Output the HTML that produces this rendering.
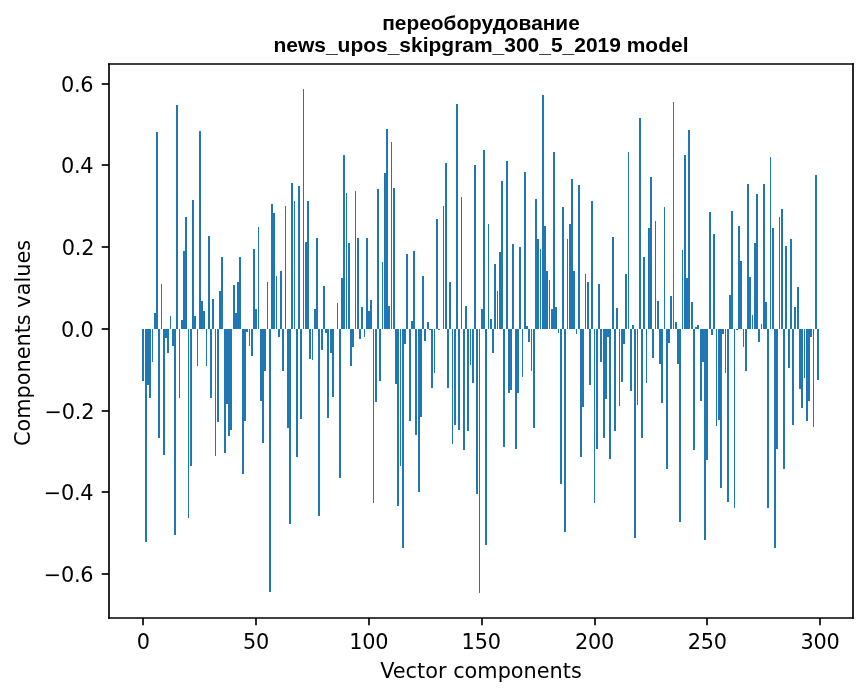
<!DOCTYPE html>
<html><head><meta charset="utf-8"><title>chart</title>
<style>
html,body{margin:0;padding:0;background:#fff;}
svg{display:block;will-change:transform}
text{font-family:"DejaVu Sans","Liberation Sans",sans-serif;fill:#000}
.t{font-family:"Liberation Sans",sans-serif;font-weight:bold;font-size:20.97px;text-anchor:middle}
.k{font-size:20.83px}
.n{letter-spacing:-0.23px}
</style></head><body>
<svg width="867" height="696" viewBox="0 0 867 696">
<rect width="867" height="696" fill="#fff"/>
<g fill="#1f77b4" shape-rendering="crispEdges">
<rect x="142" y="329" width="2" height="52"/>
<rect x="145" y="329" width="2" height="213"/>
<rect x="147" y="329" width="2" height="56"/>
<rect x="149" y="329" width="2" height="69"/>
<rect x="152" y="329" width="1" height="33"/>
<rect x="154" y="313" width="2" height="16"/>
<rect x="156" y="132" width="2" height="197"/>
<rect x="158" y="329" width="2" height="109"/>
<rect x="161" y="284" width="1" height="45"/>
<rect x="163" y="329" width="2" height="126"/>
<rect x="165" y="329" width="2" height="9"/>
<rect x="167" y="329" width="2" height="24"/>
<rect x="170" y="316" width="1" height="13"/>
<rect x="172" y="329" width="2" height="17"/>
<rect x="174" y="329" width="2" height="206"/>
<rect x="176" y="105" width="2" height="224"/>
<rect x="179" y="329" width="1" height="69"/>
<rect x="181" y="320" width="2" height="9"/>
<rect x="183" y="251" width="2" height="78"/>
<rect x="185" y="217" width="2" height="112"/>
<rect x="188" y="329" width="1" height="189"/>
<rect x="190" y="329" width="2" height="137"/>
<rect x="192" y="200" width="2" height="129"/>
<rect x="194" y="316" width="2" height="13"/>
<rect x="197" y="329" width="1" height="37"/>
<rect x="199" y="131" width="2" height="198"/>
<rect x="201" y="301" width="2" height="28"/>
<rect x="203" y="311" width="2" height="18"/>
<rect x="206" y="329" width="1" height="37"/>
<rect x="208" y="236" width="2" height="93"/>
<rect x="210" y="329" width="2" height="69"/>
<rect x="212" y="299" width="2" height="30"/>
<rect x="215" y="329" width="1" height="127"/>
<rect x="217" y="329" width="2" height="93"/>
<rect x="219" y="291" width="2" height="38"/>
<rect x="221" y="257" width="2" height="72"/>
<rect x="224" y="329" width="2" height="124"/>
<rect x="226" y="329" width="2" height="75"/>
<rect x="228" y="329" width="2" height="107"/>
<rect x="230" y="329" width="2" height="101"/>
<rect x="233" y="285" width="2" height="44"/>
<rect x="235" y="313" width="2" height="16"/>
<rect x="237" y="282" width="2" height="47"/>
<rect x="239" y="257" width="2" height="72"/>
<rect x="242" y="329" width="2" height="145"/>
<rect x="244" y="329" width="2" height="92"/>
<rect x="246" y="329" width="2" height="3"/>
<rect x="249" y="329" width="1" height="17"/>
<rect x="251" y="329" width="2" height="27"/>
<rect x="253" y="249" width="2" height="80"/>
<rect x="255" y="309" width="2" height="20"/>
<rect x="258" y="227" width="1" height="102"/>
<rect x="260" y="329" width="2" height="72"/>
<rect x="262" y="329" width="2" height="114"/>
<rect x="264" y="329" width="2" height="42"/>
<rect x="267" y="282" width="1" height="47"/>
<rect x="269" y="329" width="2" height="263"/>
<rect x="271" y="204" width="2" height="125"/>
<rect x="273" y="213" width="2" height="116"/>
<rect x="276" y="276" width="1" height="53"/>
<rect x="278" y="329" width="2" height="8"/>
<rect x="280" y="271" width="2" height="58"/>
<rect x="282" y="329" width="2" height="42"/>
<rect x="285" y="206" width="1" height="123"/>
<rect x="287" y="329" width="2" height="99"/>
<rect x="289" y="329" width="2" height="195"/>
<rect x="291" y="183" width="2" height="146"/>
<rect x="294" y="201" width="1" height="128"/>
<rect x="296" y="329" width="2" height="128"/>
<rect x="298" y="186" width="2" height="143"/>
<rect x="300" y="329" width="2" height="90"/>
<rect x="303" y="89" width="1" height="240"/>
<rect x="305" y="242" width="2" height="87"/>
<rect x="307" y="201" width="2" height="128"/>
<rect x="309" y="329" width="2" height="30"/>
<rect x="312" y="329" width="1" height="31"/>
<rect x="314" y="309" width="2" height="20"/>
<rect x="316" y="238" width="2" height="91"/>
<rect x="318" y="329" width="2" height="187"/>
<rect x="321" y="329" width="2" height="21"/>
<rect x="323" y="286" width="2" height="43"/>
<rect x="325" y="329" width="2" height="4"/>
<rect x="327" y="329" width="2" height="89"/>
<rect x="330" y="329" width="2" height="24"/>
<rect x="332" y="329" width="2" height="68"/>
<rect x="337" y="303" width="1" height="26"/>
<rect x="339" y="329" width="2" height="149"/>
<rect x="341" y="278" width="2" height="51"/>
<rect x="343" y="155" width="2" height="174"/>
<rect x="346" y="193" width="1" height="136"/>
<rect x="348" y="243" width="2" height="86"/>
<rect x="350" y="329" width="2" height="37"/>
<rect x="352" y="329" width="2" height="18"/>
<rect x="355" y="191" width="1" height="138"/>
<rect x="357" y="238" width="2" height="91"/>
<rect x="359" y="329" width="2" height="10"/>
<rect x="361" y="307" width="2" height="22"/>
<rect x="364" y="329" width="1" height="8"/>
<rect x="366" y="238" width="2" height="91"/>
<rect x="368" y="311" width="2" height="18"/>
<rect x="370" y="300" width="2" height="29"/>
<rect x="373" y="329" width="1" height="174"/>
<rect x="375" y="329" width="2" height="73"/>
<rect x="377" y="189" width="2" height="140"/>
<rect x="379" y="329" width="2" height="52"/>
<rect x="382" y="262" width="1" height="67"/>
<rect x="384" y="173" width="2" height="156"/>
<rect x="386" y="129" width="2" height="200"/>
<rect x="388" y="306" width="2" height="23"/>
<rect x="391" y="142" width="1" height="187"/>
<rect x="393" y="188" width="2" height="141"/>
<rect x="395" y="329" width="2" height="55"/>
<rect x="397" y="329" width="2" height="177"/>
<rect x="400" y="329" width="1" height="137"/>
<rect x="402" y="329" width="2" height="219"/>
<rect x="404" y="329" width="2" height="15"/>
<rect x="406" y="254" width="2" height="75"/>
<rect x="409" y="329" width="2" height="92"/>
<rect x="411" y="321" width="2" height="8"/>
<rect x="413" y="251" width="2" height="78"/>
<rect x="415" y="329" width="2" height="106"/>
<rect x="418" y="329" width="2" height="163"/>
<rect x="420" y="329" width="2" height="88"/>
<rect x="422" y="276" width="2" height="53"/>
<rect x="424" y="329" width="2" height="12"/>
<rect x="427" y="322" width="2" height="7"/>
<rect x="429" y="329" width="2" height="1"/>
<rect x="431" y="329" width="2" height="59"/>
<rect x="434" y="329" width="1" height="44"/>
<rect x="436" y="219" width="2" height="110"/>
<rect x="438" y="329" width="2" height="1"/>
<rect x="443" y="206" width="1" height="123"/>
<rect x="445" y="163" width="2" height="166"/>
<rect x="447" y="329" width="2" height="59"/>
<rect x="449" y="282" width="2" height="47"/>
<rect x="452" y="329" width="1" height="115"/>
<rect x="454" y="329" width="2" height="96"/>
<rect x="456" y="104" width="2" height="225"/>
<rect x="458" y="329" width="2" height="101"/>
<rect x="461" y="197" width="1" height="132"/>
<rect x="463" y="329" width="2" height="121"/>
<rect x="465" y="306" width="2" height="23"/>
<rect x="467" y="329" width="2" height="102"/>
<rect x="470" y="329" width="1" height="36"/>
<rect x="472" y="329" width="2" height="54"/>
<rect x="474" y="165" width="2" height="164"/>
<rect x="476" y="329" width="2" height="165"/>
<rect x="479" y="329" width="1" height="264"/>
<rect x="481" y="309" width="2" height="20"/>
<rect x="483" y="150" width="2" height="179"/>
<rect x="485" y="329" width="2" height="216"/>
<rect x="488" y="224" width="1" height="105"/>
<rect x="490" y="319" width="2" height="10"/>
<rect x="492" y="329" width="2" height="24"/>
<rect x="494" y="264" width="2" height="65"/>
<rect x="497" y="291" width="1" height="38"/>
<rect x="499" y="252" width="2" height="77"/>
<rect x="501" y="181" width="2" height="148"/>
<rect x="503" y="329" width="2" height="118"/>
<rect x="506" y="161" width="2" height="168"/>
<rect x="508" y="329" width="2" height="64"/>
<rect x="510" y="329" width="2" height="61"/>
<rect x="512" y="244" width="2" height="85"/>
<rect x="515" y="329" width="2" height="120"/>
<rect x="517" y="329" width="2" height="64"/>
<rect x="519" y="247" width="2" height="82"/>
<rect x="522" y="329" width="1" height="48"/>
<rect x="524" y="172" width="2" height="157"/>
<rect x="526" y="326" width="2" height="3"/>
<rect x="528" y="329" width="2" height="13"/>
<rect x="531" y="329" width="1" height="42"/>
<rect x="533" y="329" width="2" height="99"/>
<rect x="535" y="199" width="2" height="130"/>
<rect x="537" y="239" width="2" height="90"/>
<rect x="540" y="249" width="1" height="80"/>
<rect x="542" y="95" width="2" height="234"/>
<rect x="544" y="226" width="2" height="103"/>
<rect x="546" y="271" width="2" height="58"/>
<rect x="549" y="280" width="1" height="49"/>
<rect x="551" y="309" width="2" height="20"/>
<rect x="553" y="152" width="2" height="177"/>
<rect x="555" y="307" width="2" height="22"/>
<rect x="558" y="329" width="1" height="4"/>
<rect x="560" y="329" width="2" height="155"/>
<rect x="562" y="207" width="2" height="122"/>
<rect x="564" y="329" width="2" height="203"/>
<rect x="567" y="239" width="1" height="90"/>
<rect x="569" y="224" width="2" height="105"/>
<rect x="571" y="179" width="2" height="150"/>
<rect x="573" y="271" width="2" height="58"/>
<rect x="576" y="329" width="1" height="5"/>
<rect x="578" y="185" width="2" height="144"/>
<rect x="580" y="329" width="2" height="128"/>
<rect x="582" y="329" width="2" height="78"/>
<rect x="585" y="274" width="1" height="55"/>
<rect x="587" y="282" width="2" height="47"/>
<rect x="589" y="329" width="2" height="56"/>
<rect x="591" y="201" width="2" height="128"/>
<rect x="594" y="329" width="1" height="174"/>
<rect x="596" y="329" width="2" height="120"/>
<rect x="598" y="284" width="2" height="45"/>
<rect x="600" y="329" width="2" height="33"/>
<rect x="603" y="329" width="2" height="109"/>
<rect x="605" y="329" width="2" height="70"/>
<rect x="607" y="329" width="2" height="8"/>
<rect x="609" y="329" width="2" height="130"/>
<rect x="612" y="237" width="2" height="92"/>
<rect x="614" y="329" width="2" height="102"/>
<rect x="616" y="308" width="2" height="21"/>
<rect x="619" y="329" width="1" height="77"/>
<rect x="621" y="329" width="2" height="53"/>
<rect x="623" y="329" width="2" height="15"/>
<rect x="625" y="274" width="2" height="55"/>
<rect x="628" y="152" width="1" height="177"/>
<rect x="630" y="329" width="2" height="62"/>
<rect x="632" y="325" width="2" height="4"/>
<rect x="634" y="329" width="2" height="209"/>
<rect x="637" y="329" width="1" height="76"/>
<rect x="639" y="118" width="2" height="211"/>
<rect x="641" y="329" width="2" height="109"/>
<rect x="643" y="257" width="2" height="72"/>
<rect x="646" y="329" width="1" height="54"/>
<rect x="648" y="228" width="2" height="101"/>
<rect x="650" y="177" width="2" height="152"/>
<rect x="652" y="329" width="2" height="29"/>
<rect x="655" y="221" width="1" height="108"/>
<rect x="657" y="301" width="2" height="28"/>
<rect x="659" y="329" width="2" height="35"/>
<rect x="661" y="329" width="2" height="74"/>
<rect x="664" y="207" width="1" height="122"/>
<rect x="666" y="329" width="2" height="140"/>
<rect x="668" y="329" width="2" height="14"/>
<rect x="670" y="296" width="2" height="33"/>
<rect x="673" y="102" width="1" height="227"/>
<rect x="675" y="322" width="2" height="7"/>
<rect x="677" y="329" width="2" height="35"/>
<rect x="679" y="329" width="2" height="193"/>
<rect x="682" y="250" width="1" height="79"/>
<rect x="684" y="155" width="2" height="174"/>
<rect x="686" y="278" width="2" height="51"/>
<rect x="688" y="130" width="2" height="199"/>
<rect x="691" y="302" width="2" height="27"/>
<rect x="693" y="329" width="2" height="121"/>
<rect x="695" y="327" width="2" height="2"/>
<rect x="697" y="325" width="2" height="4"/>
<rect x="700" y="329" width="2" height="72"/>
<rect x="702" y="329" width="2" height="33"/>
<rect x="704" y="329" width="2" height="211"/>
<rect x="706" y="329" width="2" height="131"/>
<rect x="709" y="212" width="2" height="117"/>
<rect x="711" y="329" width="2" height="6"/>
<rect x="713" y="234" width="2" height="95"/>
<rect x="716" y="329" width="1" height="97"/>
<rect x="718" y="329" width="2" height="91"/>
<rect x="720" y="329" width="2" height="159"/>
<rect x="722" y="329" width="2" height="5"/>
<rect x="725" y="329" width="1" height="44"/>
<rect x="727" y="329" width="2" height="173"/>
<rect x="729" y="295" width="2" height="34"/>
<rect x="731" y="211" width="2" height="118"/>
<rect x="734" y="329" width="1" height="179"/>
<rect x="736" y="329" width="2" height="1"/>
<rect x="738" y="226" width="2" height="103"/>
<rect x="740" y="261" width="2" height="68"/>
<rect x="743" y="329" width="1" height="18"/>
<rect x="745" y="329" width="2" height="42"/>
<rect x="747" y="184" width="2" height="145"/>
<rect x="749" y="277" width="2" height="52"/>
<rect x="752" y="315" width="1" height="14"/>
<rect x="754" y="243" width="2" height="86"/>
<rect x="756" y="194" width="2" height="135"/>
<rect x="758" y="329" width="2" height="13"/>
<rect x="761" y="324" width="1" height="5"/>
<rect x="763" y="184" width="2" height="145"/>
<rect x="765" y="302" width="2" height="27"/>
<rect x="767" y="329" width="2" height="179"/>
<rect x="770" y="157" width="1" height="172"/>
<rect x="772" y="228" width="2" height="101"/>
<rect x="774" y="329" width="2" height="219"/>
<rect x="776" y="329" width="2" height="120"/>
<rect x="779" y="217" width="1" height="112"/>
<rect x="781" y="209" width="2" height="120"/>
<rect x="783" y="329" width="2" height="140"/>
<rect x="785" y="246" width="2" height="83"/>
<rect x="788" y="329" width="2" height="39"/>
<rect x="790" y="239" width="2" height="90"/>
<rect x="792" y="329" width="2" height="96"/>
<rect x="794" y="307" width="2" height="22"/>
<rect x="797" y="287" width="2" height="42"/>
<rect x="799" y="329" width="2" height="60"/>
<rect x="801" y="329" width="2" height="79"/>
<rect x="804" y="329" width="1" height="49"/>
<rect x="806" y="329" width="2" height="92"/>
<rect x="808" y="329" width="2" height="72"/>
<rect x="810" y="329" width="2" height="8"/>
<rect x="813" y="329" width="1" height="98"/>
<rect x="815" y="175" width="2" height="154"/>
<rect x="817" y="329" width="2" height="51"/>
</g>
<g stroke="#000" stroke-width="1.67" stroke-linecap="square" fill="none">
<line x1="109" y1="64" x2="109" y2="618"/><line x1="853" y1="64" x2="853" y2="618"/><line x1="109" y1="618" x2="853" y2="618"/><line x1="109" y1="64" x2="853" y2="64"/>
</g>
<g stroke="#000" stroke-width="1.67">
<line x1="143" y1="618" x2="143" y2="625.30"/>
<line x1="256" y1="618" x2="256" y2="625.30"/>
<line x1="369" y1="618" x2="369" y2="625.30"/>
<line x1="482" y1="618" x2="482" y2="625.30"/>
<line x1="595" y1="618" x2="595" y2="625.30"/>
<line x1="707" y1="618" x2="707" y2="625.30"/>
<line x1="820" y1="618" x2="820" y2="625.30"/>
<line x1="109" y1="574" x2="101.70" y2="574"/>
<line x1="109" y1="492" x2="101.70" y2="492"/>
<line x1="109" y1="411" x2="101.70" y2="411"/>
<line x1="109" y1="329" x2="101.70" y2="329"/>
<line x1="109" y1="247" x2="101.70" y2="247"/>
<line x1="109" y1="165" x2="101.70" y2="165"/>
<line x1="109" y1="84" x2="101.70" y2="84"/>
</g>
<text class="k n" x="143.27" y="649.3" text-anchor="middle">0</text>
<text class="k n" x="256.03" y="649.3" text-anchor="middle">50</text>
<text class="k n" x="368.69" y="649.3" text-anchor="middle">100</text>
<text class="k n" x="481.16" y="649.3" text-anchor="middle">150</text>
<text class="k n" x="594.43" y="649.3" text-anchor="middle">200</text>
<text class="k n" x="707.36" y="649.3" text-anchor="middle">250</text>
<text class="k n" x="820.09" y="649.3" text-anchor="middle">300</text>
<text class="k n" x="93.37" y="582.15" text-anchor="end">−0.6</text>
<text class="k n" x="93.33" y="500.15" text-anchor="end">−0.4</text>
<text class="k n" x="94.20" y="419.15" text-anchor="end">−0.2</text>
<text class="k n" x="93.56" y="337.15" text-anchor="end">0.0</text>
<text class="k n" x="94.20" y="255.15" text-anchor="end">0.2</text>
<text class="k n" x="93.33" y="173.15" text-anchor="end">0.4</text>
<text class="k n" x="93.37" y="92.15" text-anchor="end">0.6</text>
<text class="k" x="481.00" y="678.3" text-anchor="middle">Vector components</text>
<text class="k" transform="translate(30,343.00) rotate(-90)" text-anchor="middle">Components values</text>
<text class="t" style="font-size:20.85px" x="481.00" y="29.9">переоборудование</text>
<text class="t" x="481.00" y="51.7">news_upos_skipgram_300_5_2019 model</text>
</svg></body></html>
